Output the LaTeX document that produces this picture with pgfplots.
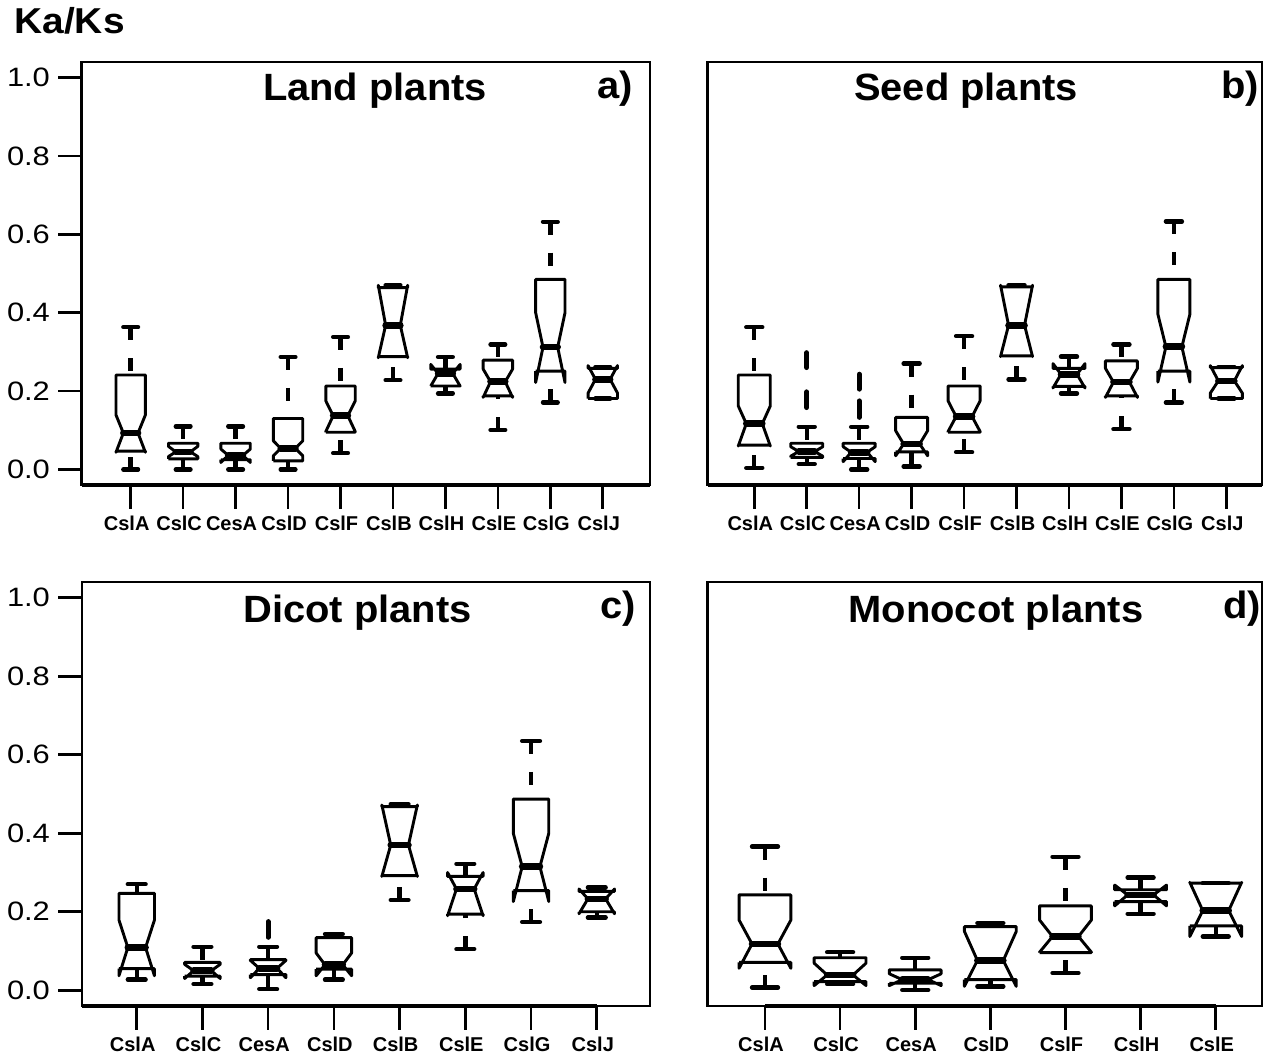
\documentclass[border=0pt]{standalone}
\usepackage{fontspec}
\setmainfont{Liberation Sans}
\usepackage{pgfplots}
\pgfplotsset{compat=1.18}

% notched box: x, min, q1, notch-low, median, notch-high, q3, max
\newcommand\bw{0.28}
\newcommand\nbox[8]{%
 \pgfmathsetmacro\nbXa{#1-\bw}%
 \pgfmathsetmacro\nbXb{#1+\bw}%
 \pgfmathsetmacro\nbXc{#1-0.5*\bw}%
 \pgfmathsetmacro\nbXd{#1+0.5*\bw}%
 \edef\nbDo{%
  \noexpand\addplot[whisk] coordinates {(#1,#8) (#1,#7)};
  \noexpand\addplot[whisk] coordinates {(#1,#2) (#1,#3)};
  \noexpand\addplot[stap] coordinates {(\nbXc,#8) (\nbXd,#8)};
  \noexpand\addplot[stap] coordinates {(\nbXc,#2) (\nbXd,#2)};
  \noexpand\addplot[bx] coordinates {(\nbXa,#3) (\nbXb,#3) (\nbXb,#4) (\nbXd,#5) (\nbXb,#6) (\nbXb,#7) (\nbXa,#7) (\nbXa,#6) (\nbXc,#5) (\nbXa,#4) (\nbXa,#3)};
  \noexpand\addplot[medl] coordinates {(\nbXc,#5) (\nbXd,#5)};
 }\nbDo}
% outlier dash: x, low, high
\newcommand\outl[3]{\addplot[outs] coordinates {(#1,#3) (#1,#2)};}

\pgfplotsset{
 bx/.style={black, line width=1.45pt, line join=round},
 medl/.style={black, line width=3.3pt, line cap=round},
 whisk/.style={black, line width=2.2pt, dash pattern=on 6.5pt off 9pt},
 stap/.style={black, line width=2.2pt, line cap=round},
 outs/.style={black, line width=2.5pt, line cap=round},
 thickax/.style={black, line width=1.8pt},
 panel/.style={
  scale only axis, anchor=south west, clip=false,
  axis line style={line width=1.2pt},
  ymin=-0.04, ymax=1.04,
  tick align=outside, xtick pos=left, ytick pos=left,
  major tick length=11.8pt,
  tick style={black, line width=1.3pt},
  xticklabel style={font=\bfseries\fontsize{10}{12}\selectfont, xshift=-2pt,
    text height=7.4pt, text depth=0pt},
  yticklabel style={font=\fontsize{13.3}{15}\selectfont, xscale=1.16,
    /pgf/number format/.cd, fixed, fixed zerofill, precision=1},
  /pgf/number format/assume math mode=true,
 },
}

\begin{document}
\begin{tikzpicture}
\path[use as bounding box] (0,0) rectangle (637.5pt,526.5pt);

% ---------------- a) Land plants
\begin{axis}[panel, at={(40.85pt,283.9pt)}, width=284.15pt, height=211.7pt,
  xmin=0.066, xmax=10.90, xtick={1,...,10},
  xticklabels={CslA,CslC,CesA,CslD,CslF,CslB,CslH,CslE,CslG,CslJ},
  ytick={0,0.2,0.4,0.6,0.8,1.0}]
\renewcommand\bw{0.28}
\addplot[thickax] coordinates {(0.066,-0.04) (10.90,-0.04)};
\nbox{1}{0.000}{0.047}{0.044}{0.093}{0.139}{0.241}{0.363}
\nbox{2}{0.000}{0.027}{0.033}{0.045}{0.059}{0.067}{0.110}
\nbox{3}{0.000}{0.025}{0.018}{0.036}{0.052}{0.067}{0.110}
\nbox{4}{0.000}{0.022}{0.035}{0.054}{0.073}{0.130}{0.287}
\nbox{5}{0.042}{0.095}{0.097}{0.137}{0.175}{0.213}{0.338}
\nbox{6}{0.228}{0.288}{0.285}{0.368}{0.470}{0.464}{0.470}
\nbox{7}{0.194}{0.213}{0.213}{0.245}{0.268}{0.256}{0.287}
\nbox{8}{0.101}{0.188}{0.184}{0.224}{0.256}{0.279}{0.319}
\nbox{9}{0.171}{0.251}{0.222}{0.312}{0.400}{0.485}{0.632}
\nbox{10}{0.181}{0.181}{0.195}{0.230}{0.265}{0.258}{0.262}
\end{axis}

% ---------------- b) Seed plants
\begin{axis}[panel, at={(353.75pt,283.9pt)}, width=277.25pt, height=211.7pt,
  xmin=0.108, xmax=10.68, xtick={1,...,10},
  xticklabels={CslA,CslC,CesA,CslD,CslF,CslB,CslH,CslE,CslG,CslJ},
  ytick=\empty]
\renewcommand\bw{0.305}
\addplot[thickax] coordinates {(0.108,-0.04) (10.68,-0.04)};
\nbox{1}{0.004}{0.062}{0.060}{0.117}{0.162}{0.241}{0.363}
\nbox{2}{0.014}{0.031}{0.034}{0.046}{0.058}{0.067}{0.109}
\outl{2}{0.260}{0.298}
\outl{2}{0.158}{0.198}
\nbox{3}{0.000}{0.028}{0.020}{0.044}{0.058}{0.067}{0.109}
\outl{3}{0.205}{0.243}
\outl{3}{0.133}{0.175}
\nbox{4}{0.008}{0.045}{0.035}{0.065}{0.099}{0.133}{0.270}
\nbox{5}{0.044}{0.095}{0.097}{0.135}{0.175}{0.213}{0.340}
\nbox{6}{0.230}{0.290}{0.288}{0.368}{0.470}{0.466}{0.470}
\nbox{7}{0.194}{0.212}{0.208}{0.243}{0.270}{0.258}{0.288}
\nbox{8}{0.103}{0.188}{0.184}{0.223}{0.258}{0.277}{0.319}
\nbox{9}{0.171}{0.251}{0.223}{0.313}{0.396}{0.485}{0.633}
\nbox{10}{0.181}{0.181}{0.195}{0.226}{0.265}{0.260}{0.262}
\end{axis}

% ---------------- c) Dicot plants
\begin{axis}[panel, at={(40.85pt,23.5pt)}, width=284.15pt, height=212pt,
  xmin=0.163, xmax=8.81, xtick={1,...,8},
  xticklabels={CslA,CslC,CesA,CslD,CslB,CslE,CslG,CslJ},
  ytick={0,0.2,0.4,0.6,0.8,1.0}]
\renewcommand\bw{0.27}
\addplot[thickax] coordinates {(0.163,-0.04) (8,-0.04)};
\nbox{1}{0.027}{0.055}{0.037}{0.109}{0.179}{0.247}{0.270}
\nbox{2}{0.016}{0.036}{0.030}{0.050}{0.066}{0.071}{0.111}
\nbox{3}{0.003}{0.040}{0.032}{0.056}{0.076}{0.078}{0.111}
\outl{3}{0.135}{0.175}
\nbox{4}{0.027}{0.054}{0.037}{0.065}{0.095}{0.134}{0.143}
\nbox{5}{0.230}{0.292}{0.290}{0.370}{0.472}{0.468}{0.474}
\nbox{6}{0.105}{0.194}{0.190}{0.258}{0.300}{0.290}{0.322}
\nbox{7}{0.174}{0.254}{0.226}{0.315}{0.400}{0.487}{0.635}
\nbox{8}{0.185}{0.200}{0.195}{0.233}{0.258}{0.252}{0.262}
\end{axis}

% ---------------- d) Monocot plants
\begin{axis}[panel, at={(353.75pt,23.5pt)}, width=277.25pt, height=212pt,
  xmin=0.235, xmax=7.616, xtick={1,...,7},
  xticklabels={CslA,CslC,CesA,CslD,CslF,CslH,CslE},
  ytick=\empty]
\renewcommand\bw{0.345}
\addplot[thickax] coordinates {(1,-0.04) (7,-0.04)};
\nbox{1}{0.007}{0.071}{0.056}{0.118}{0.179}{0.243}{0.366}
\nbox{2}{0.016}{0.022}{0.012}{0.039}{0.069}{0.083}{0.097}
\nbox{3}{0.001}{0.018}{0.012}{0.027}{0.042}{0.052}{0.083}
\nbox{4}{0.010}{0.027}{0.010}{0.076}{0.150}{0.162}{0.171}
\nbox{5}{0.044}{0.096}{0.097}{0.137}{0.179}{0.215}{0.340}
\nbox{6}{0.195}{0.226}{0.215}{0.243}{0.268}{0.256}{0.287}
\nbox{7}{0.137}{0.164}{0.137}{0.203}{0.275}{0.273}{0.273}
\end{axis}

% titles and labels
\node[font=\bfseries\fontsize{18}{21}\selectfont, xscale=1.08, inner sep=0pt, anchor=base west] at (7pt,509.5pt) {Ka/Ks};
\begin{scope}[every node/.style={font=\bfseries\fontsize{19}{22}\selectfont, xscale=1.05, inner sep=0pt, anchor=base}]
\node at (187.5pt,476pt) {Land plants};
\node at (483pt,476pt) {Seed plants};
\node at (178.75pt,215pt) {Dicot plants};
\node at (498pt,215pt) {Monocot plants};
\node at (307.5pt,477pt) {a)};
\node at (620pt,477pt) {b)};
\node at (309pt,217pt) {c)};
\node at (621pt,217pt) {d)};
\end{scope}
\end{tikzpicture}
\end{document}
